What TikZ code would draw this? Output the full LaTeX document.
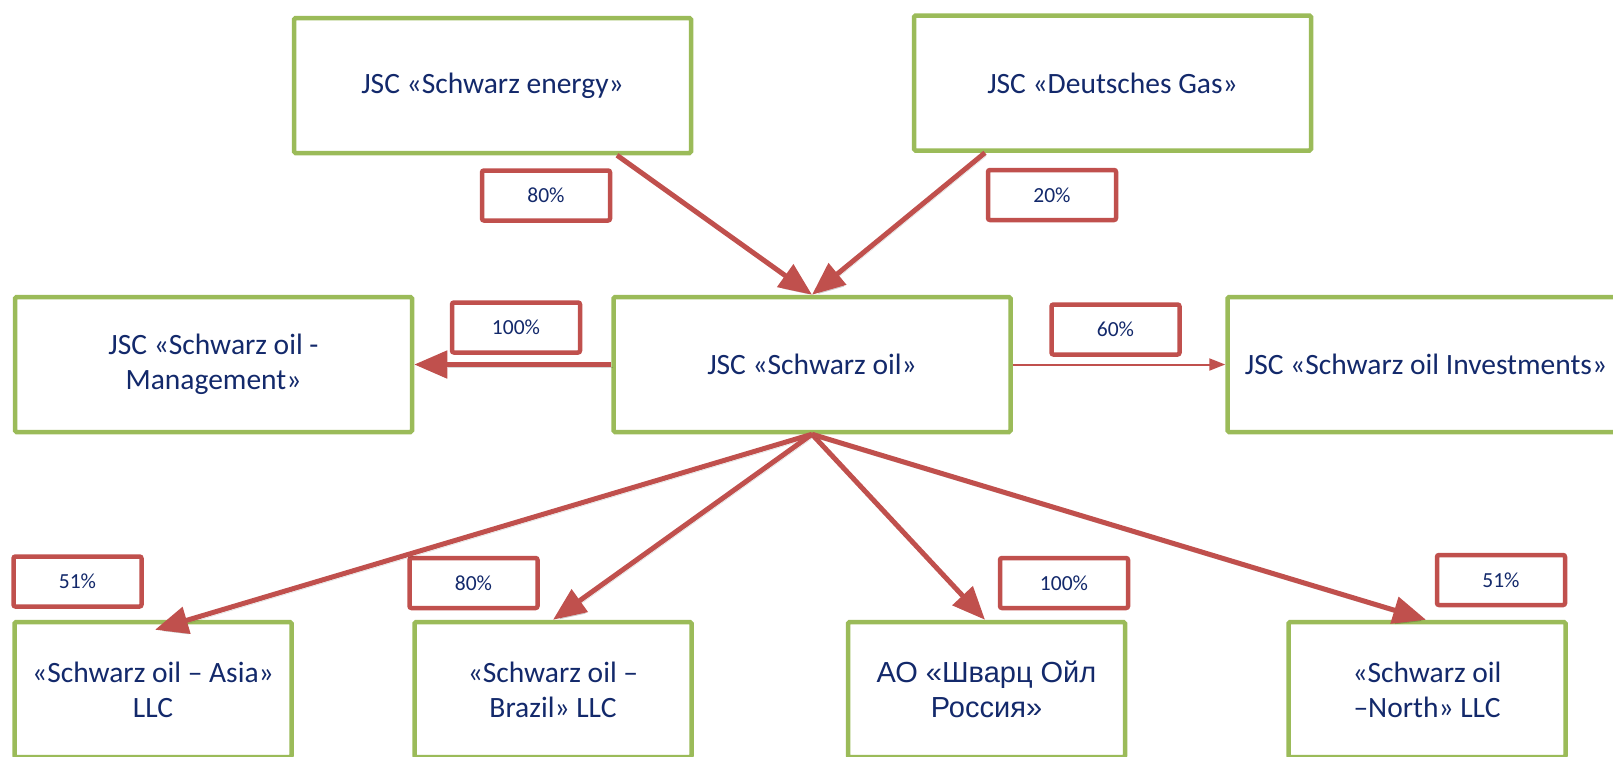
\documentclass[tikz,border=0pt]{standalone}
\usepackage{fontspec}
\setmainfont{Carlito}
\newfontfamily\rufont{Liberation Sans}
\usetikzlibrary{arrows.meta,calc}
\definecolor{boxgreen}{HTML}{9BBB59}
\definecolor{arrred}{HTML}{C0504D}
\definecolor{txtblue}{HTML}{13296B}
\tikzset{
  entity/.style={draw=boxgreen, line width=4.5pt, fill=white, rounded corners=1.5pt,
    minimum height=135pt, align=center, text=txtblue, inner sep=0pt,
    font=\fontsize{29.5}{35}\selectfont},
  wide/.style={entity, minimum width=397pt},
  narrow/.style={entity, minimum width=277pt},
  share/.style={draw=arrred, line width=4.5pt, fill=white, rounded corners=2pt,
    minimum width=128pt, minimum height=50pt, inner sep=0pt, text=txtblue,
    font=\fontsize{21.5}{25}\selectfont},
  stake/.style={draw=arrred, line width=5pt, -{Triangle[length=33pt,width=27pt]},
    preaction={draw=black, opacity=0.15, transform canvas={shift={(1.5pt,-3pt)}}}},
  minor/.style={draw=arrred, line width=2pt, -{Triangle[length=16pt,width=12pt]}}
}
\begin{document}
\begin{tikzpicture}[x=1pt, y=-1pt]
\useasboundingbox (0,0) rectangle (1613,756);

% owners
\node[wide] (energy) at (492.5,85.5) {JSC «Schwarz energy»};
\node[wide] (gas) at (1112.5,83) {JSC «Deutsches Gas»};

% middle row
\node[wide] (mgmt) at (213.5,364.5) {JSC «Schwarz oil -\\Management»};
\node[wide] (oil) at (812,364.5) {JSC «Schwarz oil»};
\node[wide] (inv) at (1426,364.5) {JSC «Schwarz oil Investments»};

% subsidiaries
\node[narrow] (asia) at (153,689.5) {«Schwarz oil – Asia»\\LLC};
\node[narrow] (brazil) at (553,689.5) {«Schwarz oil –\\Brazil» LLC};
\node[narrow, font=\rufont\fontsize{29}{35}\selectfont] (russia) at (986.5,689.5) {АО «Шварц Ойл\\Россия»};
\node[narrow] (north) at (1427,689.5) {«Schwarz oil\\–North» LLC};

% shares
\node[share] (s1) at (546,195.5) {80\%};
\node[share] (s2) at (1052,195) {20\%};
\node[share] (s3) at (516,327.5) {100\%};
\node[share] (s4) at (1115.5,329.5) {60\%};
\node[share] (s5) at (77.5,581.5) {51\%};
\node[share] (s6) at (473.5,583) {80\%};
\node[share] (s7) at (1064,583) {100\%};
\node[share] (s8) at (1501,580) {51\%};

% ownership links
\draw[stake] ([xshift=124.5pt]energy.south) -- (oil.north);
\draw[stake] ([xshift=-127.5pt]gas.south) -- (oil.north);
\draw[stake] (oil.west) -- (mgmt.east);
\draw[minor] (oil.east) -- (inv.west);
\draw[stake] (oil.south) -- ([shift={(2pt,-10pt)}]asia.north);
\draw[stake] (oil.south) -- (brazil.north);
\draw[stake] (oil.south) -- ([xshift=-1.5pt]russia.north);
\draw[stake] (oil.south) -- ([xshift=-1pt]north.north);
\end{tikzpicture}
\end{document}
